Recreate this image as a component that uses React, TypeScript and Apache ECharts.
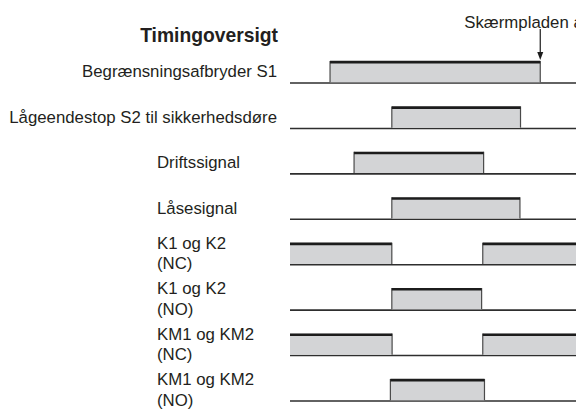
import React, { useEffect, useRef } from "react";
import * as echarts from "echarts";

// Row labels (top to bottom)
const rowLabels = [
  "Begrænsningsafbryder S1",
  "Lågeendestop S2 til sikkerhedsdøre",
  "Driftssignal",
  "Låsesignal",
  "K1 og K2\n(NC)",
  "K1 og K2\n(NO)",
  "KM1 og KM2\n(NC)",
  "KM1 og KM2\n(NO)",
];
const titleText = "Timingoversigt";
const annotationText = "Skærmpladen a";

// Signal "high" intervals (time units 0..100)
const pulseRow = [0, 1, 2, 3, 4, 4, 5, 6, 6, 7];
const pulseStart = [14.0, 35.6, 22.4, 35.6, 0, 67.4, 35.6, 0, 67.4, 35.1];
const pulseEnd = [87.5, 80.6, 67.7, 80.4, 35.6, 100, 67.0, 35.7, 100, 68.0];

// Annotation time (arrow) on row 0
const annotationTime = 87.5;
const annotationRow = 0;

const T_MIN = 0;
const T_MAX = 100;
const PULSE_H = 0.485;
const FONT = "'Liberation Sans', Arial, Helvetica, sans-serif";
const TEXT_COLOR = "#231f20";

export default function App() {
  const ref = useRef<HTMLDivElement>(null);
  useEffect(() => {
    document.body.style.margin = "0";
    const chart = echarts.init(ref.current!, null, { renderer: "svg" });
    const pulseData = pulseRow.map((r, i) => [r, pulseStart[i], pulseEnd[i]]);
    const rowData = rowLabels.map((l, i) => [i, l]);
    const option: any = {
      animation: false,
      grid: { left: 290, right: 0, top: 37.57, bottom: 8 },
      xAxis: { type: "value", min: T_MIN, max: T_MAX, show: false },
      yAxis: { type: "value", min: -1, max: 7, inverse: true, show: false },
      graphic: [
        {
          type: "text",
          x: 278,
          y: 35,
          style: {
            text: titleText,
            textAlign: "right",
            textVerticalAlign: "middle",
            font: `bold 19.3px ${FONT}`,
            fill: TEXT_COLOR,
          },
        },
      ],
      series: [
        {
          type: "custom",
          name: "baselines",
          data: rowData,
          silent: true,
          clip: false,
          renderItem: (params: any, api: any) => {
            const r = api.value(0);
            const a = api.coord([T_MIN, r]);
            const b = api.coord([T_MAX, r]);
            const label = rowLabels[r];
            const right = r < 2;
            const mid = api.coord([T_MIN, r - PULSE_H / 2]);
            return {
              type: "group",
              children: [
                {
                  type: "line",
                  shape: { x1: a[0], y1: a[1], x2: b[0], y2: b[1] },
                  style: { stroke: "#2e2e2e", lineWidth: 1.6 },
                },
                {
                  type: "text",
                  x: right ? 277 : 157,
                  y: mid[1],
                  style: {
                    text: label,
                    textAlign: right ? "right" : "left",
                    textVerticalAlign: "middle",
                    font: `16.8px ${FONT}`,
                    lineHeight: 20.5,
                    fill: TEXT_COLOR,
                  },
                },
              ],
            };
          },
        },
        {
          type: "custom",
          name: "pulses",
          data: pulseData,
          silent: true,
          clip: false,
          renderItem: (params: any, api: any) => {
            const r = api.value(0);
            const s = api.value(1);
            const e = api.value(2);
            const p0 = api.coord([s, r]);
            const p1 = api.coord([e, r - PULSE_H]);
            const x0 = p0[0];
            const x1 = p1[0];
            const base = p0[1] - 0.8;
            const top = p1[1];
            const children: any[] = [
              {
                type: "rect",
                shape: { x: x0, y: top, width: x1 - x0, height: base - top },
                style: { fill: "#d3d4d6" },
              },
            ];
            if (s > T_MIN) {
              children.push({
                type: "line",
                shape: { x1: x0, y1: top, x2: x0, y2: base },
                style: { stroke: "#4a4a4a", lineWidth: 1.2 },
              });
            }
            if (e < T_MAX) {
              children.push({
                type: "line",
                shape: { x1: x1, y1: top, x2: x1, y2: base },
                style: { stroke: "#4a4a4a", lineWidth: 1.2 },
              });
            }
            children.push({
              type: "line",
              shape: { x1: x0, y1: top + 1.2, x2: x1, y2: top + 1.2 },
              style: { stroke: "#1c1c1c", lineWidth: 2.6 },
            });
            return { type: "group", children };
          },
        },
        {
          type: "custom",
          name: "annotation",
          data: [[annotationTime, annotationRow]],
          silent: true,
          clip: false,
          renderItem: (params: any, api: any) => {
            const t = api.value(0);
            const r = api.value(1);
            const tip = api.coord([t, r - PULSE_H]);
            const x = tip[0];
            const yTip = tip[1] - 1;
            return {
              type: "group",
              children: [
                {
                  type: "line",
                  shape: { x1: x, y1: yTip - 31, x2: x, y2: yTip - 6 },
                  style: { stroke: "#1c1c1c", lineWidth: 1.2 },
                },
                {
                  type: "polygon",
                  shape: {
                    points: [
                      [x - 3, yTip - 8],
                      [x + 3, yTip - 8],
                      [x, yTip],
                    ],
                  },
                  style: { fill: "#1c1c1c" },
                },
                {
                  type: "text",
                  x: x - 76,
                  y: 22,
                  style: {
                    text: annotationText,
                    textAlign: "left",
                    textVerticalAlign: "middle",
                    font: `16.8px ${FONT}`,
                    fill: TEXT_COLOR,
                  },
                },
              ],
            };
          },
        },
      ],
    };
    chart.setOption(option);
    return () => chart.dispose();
  }, []);
  return (
    <div
      ref={ref}
      style={{ position: "fixed", left: 0, top: 0, width: 576, height: 409, background: "#fff" }}
    />
  );
}
